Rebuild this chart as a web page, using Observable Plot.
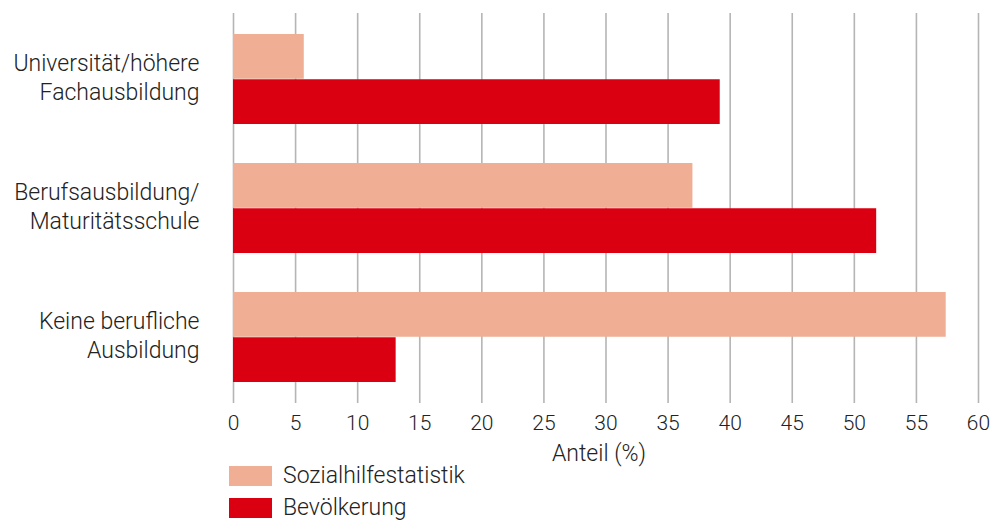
<!DOCTYPE html>
<html>
<head>
<meta charset="utf-8">
<script src="https://cdn.jsdelivr.net/npm/d3@7"></script>
<script src="https://cdn.jsdelivr.net/npm/@observablehq/plot@0.6"></script>
<style>
  body { margin: 0; background: #fff; font-family: Roboto, "Liberation Sans", sans-serif; font-weight: 300; color: #222; }
  #legend { position: relative; height: 51px; }
  .item { position: absolute; left: 229px; display: flex; align-items: center; font-size: 23px; line-height: 20px; }
  .sw { width: 43px; height: 20px; margin-right: 11px; }
</style>
</head>
<body>
<div id="chart"></div>
<div id="legend"></div>
<script>
const categories = ["Universität/höhere Fachausbildung", "Berufsausbildung/ Maturitätsschule", "Keine berufliche Ausbildung"];
const categoryLabels = ["Universität/höhere\nFachausbildung", "Berufsausbildung/\nMaturitätsschule", "Keine berufliche\nAusbildung"];
const series = ["Sozialhilfestatistik", "Bevölkerung"];
const sozialhilfe = [5.7, 37.0, 57.4];
const bevoelkerung = [39.2, 51.8, 13.1];
const colors = ["#f0ae94", "#db0011"];
const xTicks = [0, 5, 10, 15, 20, 25, 30, 35, 40, 45, 50, 55, 60];
const xLabel = "Anteil (%)";

const data = [];
categories.forEach((c, i) => {
  data.push({category: c, series: series[0], value: sozialhilfe[i]});
  data.push({category: c, series: series[1], value: bevoelkerung[i]});
});
const labelData = categories.map((c, i) => ({category: c, label: categoryLabels[i]}));

const plot = Plot.plot({
  width: 992,
  height: 470,
  marginLeft: 233,
  marginRight: 14,
  marginTop: 13,
  marginBottom: 67,
  style: {fontFamily: "Roboto, 'Liberation Sans', sans-serif", fontWeight: 300, color: "#222", background: "#fff"},
  x: {domain: [0, 60], ticks: xTicks},
  y: {domain: categories, paddingInner: 0.302, paddingOuter: 0.155, axis: null},
  color: {domain: series, range: colors},
  marks: [
    Plot.ruleX(xTicks, {stroke: "#b5b5b5", strokeWidth: 1.6}),
    Plot.ruleY([0], {frameAnchor: "bottom", stroke: "#b5b5b5", strokeWidth: 1.6}),
    Plot.barX(data.filter(d => d.series === series[0]), {x: "value", y: "category", fill: colors[0], insetBottom: 45.25}),
    Plot.barX(data.filter(d => d.series === series[1]), {x: "value", y: "category", fill: colors[1], insetTop: 45.25}),
    Plot.axisX({ticks: xTicks, tickSize: 0, tickPadding: 12, fontSize: 21, label: null}),
    Plot.text(labelData, {y: "category", text: "label", frameAnchor: "left", dx: -34, dy: -3, textAnchor: "end", fontSize: 23, lineHeight: 1.26, fill: "#222"}),
    Plot.text([xLabel], {frameAnchor: "bottom", lineAnchor: "middle", dy: 50, dx: -7, fontSize: 23, fill: "#222"})
  ]
});
document.getElementById("chart").appendChild(plot);

const legend = document.getElementById("legend");
series.forEach((s, i) => {
  const item = document.createElement("div");
  item.className = "item";
  item.style.top = (-4 + i * 32) + "px";
  item.innerHTML = `<div class="sw" style="background:${colors[i]}"></div><span>${s}</span>`;
  legend.appendChild(item);
});
</script>
</body>
</html>
